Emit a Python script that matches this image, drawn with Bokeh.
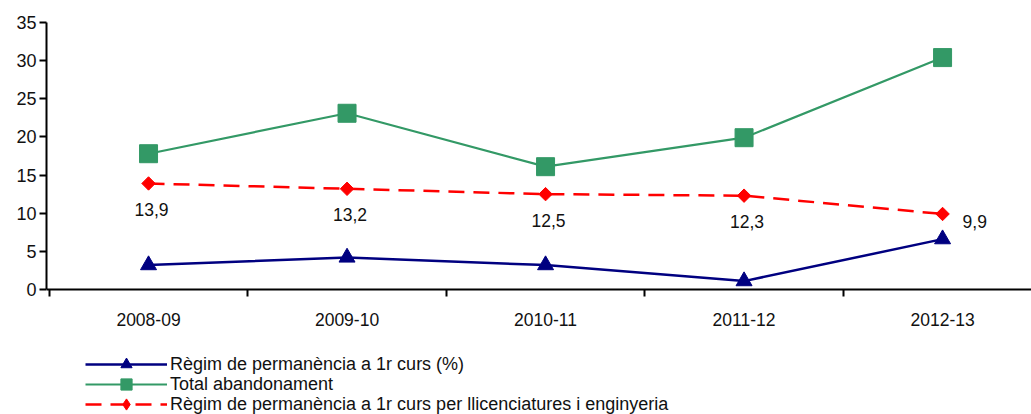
import numpy as np
from bokeh.plotting import figure
from bokeh.models import FixedTicker, Legend, LegendItem, ColumnDataSource, Range1d
from bokeh.core.properties import value
from bokeh.embed import file_html
from bokeh.resources import INLINE

categories = ["2008-09", "2009-10", "2010-11", "2011-12", "2012-13"]
regim = [3.2, 4.2, 3.2, 1.1, 6.6]
total_abandonament = [17.8, 23.1, 16.1, 19.9, 30.4]
regim_llic = [13.9, 13.2, 12.5, 12.3, 9.9]
regim_llic_labels = ["13,9", "13,2", "12,5", "12,3", "9,9"]
y_ticks = [0, 5, 10, 15, 20, 25, 30, 35]
legend_labels = ["Règim de permanència a 1r curs (%)",
                 "Total abandonament",
                 "Règim de permanència a 1r curs per llicenciatures i enginyeria"]

FONT = "Liberation Sans"
BLUE = "#000080"
GREEN = "#339966"
RED = "#FF0000"
TXT = "#111111"

xs = list(range(len(categories)))

# frame covers the whole figure below the top border; x axis is pinned at y = 0
W, H = 1031, 414
TOP, LEFT = 22, 46
AXIS_Y = 289
px_per_unit = (AXIS_Y - TOP) / 35.0
y_start = -(H - AXIS_Y) / px_per_unit

p = figure(width=W, height=H, output_backend="svg", toolbar_location=None,
           x_range=Range1d(-0.514, 4.448), y_range=Range1d(y_start, 35),
           min_border_left=LEFT, min_border_right=0, min_border_top=TOP, min_border_bottom=0)
p.outline_line_color = None
p.xgrid.visible = False
p.ygrid.visible = False
p.background_fill_color = "white"
p.border_fill_color = "white"

# axes
p.yaxis.ticker = FixedTicker(ticks=y_ticks)
p.yaxis.bounds = (0, 35)
p.yaxis.major_tick_out = 7
p.yaxis.major_tick_in = 0
p.yaxis.minor_tick_out = 0
p.yaxis.minor_tick_in = 0
p.yaxis.axis_line_width = 2
p.yaxis.major_tick_line_width = 2
p.yaxis.axis_line_color = "black"
p.yaxis.major_tick_line_color = "black"
p.yaxis.major_label_text_font = FONT
p.yaxis.major_label_text_font_size = "18px"
p.yaxis.major_label_text_color = TXT
p.yaxis.major_label_standoff = 3

bounds = [i - 0.5 for i in range(len(categories) + 1)]
p.xaxis.fixed_location = 0
p.xaxis.ticker = FixedTicker(ticks=xs, minor_ticks=bounds)
p.xaxis.major_label_overrides = {i: c for i, c in zip(xs, categories)}
p.xaxis.major_tick_out = 0
p.xaxis.major_tick_in = 0
p.xaxis.minor_tick_out = 7
p.xaxis.minor_tick_in = 0
p.xaxis.minor_tick_line_width = 2
p.xaxis.minor_tick_line_color = "black"
p.xaxis.axis_line_width = 2
p.xaxis.axis_line_color = "black"
p.xaxis.major_label_text_font = FONT
p.xaxis.major_label_text_font_size = "17.5px"
p.xaxis.major_label_text_color = TXT
p.xaxis.major_label_standoff = 16

# series
src = ColumnDataSource(dict(x=xs, regim=regim, total=total_abandonament,
                            llic=regim_llic, lab=regim_llic_labels))

l1 = p.line("x", "regim", source=src, line_color=BLUE, line_width=2.5)
m1 = p.scatter("x", "regim", source=src, marker="triangle", size=16,
               fill_color=BLUE, line_color=BLUE)

l2 = p.line("x", "total", source=src, line_color=GREEN, line_width=2.2)
m2 = p.scatter("x", "total", source=src, marker="square", size=18,
               fill_color=GREEN, line_color=GREEN)

l3 = p.line("x", "llic", source=src, line_color=RED, line_width=2.5, line_dash="16 9")
m3 = p.scatter("x", "llic", source=src, marker="square", angle=np.pi / 4, size=9.5,
               fill_color=RED, line_color=RED)
# hidden twin used only for the legend swatch (legend swatches ignore angle)
m3_leg = p.scatter("x", "llic", source=src, marker="diamond", size=12,
                   fill_color=RED, line_color=RED, visible=False)

# value labels
n = len(xs)
lab_src_a = ColumnDataSource(dict(x=xs[:n - 1], y=regim_llic[:n - 1], t=regim_llic_labels[:n - 1]))
lab_src_b = ColumnDataSource(dict(x=xs[n - 1:], y=regim_llic[n - 1:], t=regim_llic_labels[n - 1:]))
p.text("x", "y", text="t", source=lab_src_a, text_font=value(FONT), text_font_size="17.5px",
       text_align="center", text_baseline="middle", y_offset=26, x_offset=3, text_color=TXT)
p.text("x", "y", text="t", source=lab_src_b, text_font=value(FONT), text_font_size="17.5px",
       text_align="left", text_baseline="middle", y_offset=8, x_offset=20, text_color=TXT)

# legends: one per row so that the markers can be larger than the row pitch allows
GH = 28
row_centers = [364, 384, 404]
for lab, rends, c in zip(legend_labels, [[l1, m1], [l2, m2], [l3, m3_leg]], row_centers):
    vy = H - (c + GH / 2)
    lg = Legend(items=[LegendItem(label=lab, renderers=rends)], location=(85 - LEFT, vy),
                orientation="vertical")
    lg.glyph_width = 82
    lg.glyph_height = GH
    lg.label_height = GH
    lg.spacing = 0
    lg.padding = 0
    lg.margin = 0
    lg.label_standoff = 3
    lg.border_line_color = None
    lg.background_fill_alpha = 0
    lg.label_text_font = FONT
    lg.label_text_font_size = "18px"
    lg.label_text_color = TXT
    lg.click_policy = "none"
    p.add_layout(lg, "center")

open("out.html", "w").write(file_html(p, INLINE))
